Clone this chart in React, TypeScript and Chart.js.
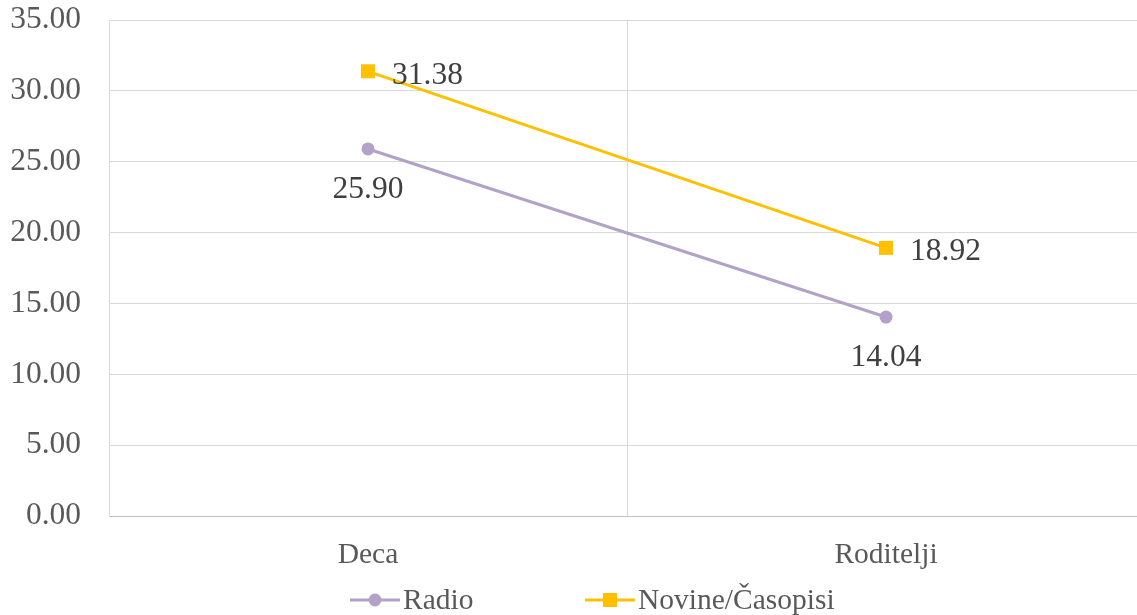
import React, { useEffect, useRef } from "react";
import { Chart, registerables } from "chart.js";

Chart.register(...registerables);

const categories = ["Deca", "Roditelji"];
const seriesNames = ["Radio", "Novine/Časopisi"];
const radioValues = [25.9, 14.04];
const novineValues = [31.38, 18.92];
const yMin = 0;
const yMax = 35;
const yStep = 5;

const FONT = "'Liberation Serif', 'Times New Roman', serif";
const NUM_SIZE = 31.5;
const TEXT_SIZE = 29.5;
const RADIO_COLOR = "#b3a2c7";
const NOVINE_COLOR = "#ffc000";

const dataLabelPlugin = {
  id: "dataLabels",
  afterDatasetsDraw(chart: any) {
    const ctx = chart.ctx;
    ctx.save();
    ctx.font = `${NUM_SIZE}px ${FONT}`;
    ctx.fillStyle = "#404040";
    chart.data.datasets.forEach((ds: any, i: number) => {
      const meta = chart.getDatasetMeta(i);
      meta.data.forEach((pt: any, j: number) => {
        const text = Number(ds.data[j]).toFixed(2);
        ctx.textBaseline = "middle";
        if (ds.labelPos === "right") {
          ctx.textAlign = "left";
          ctx.fillText(text, pt.x + 24, pt.y + 4);
        } else {
          ctx.textAlign = "center";
          ctx.fillText(text, pt.x, pt.y + 41);
        }
      });
    });
    ctx.restore();
  },
};

const legendPlugin = {
  id: "customLegend",
  afterDraw(chart: any) {
    const ctx = chart.ctx;
    const y = 600;
    const items = [
      { x: 350, ds: chart.data.datasets[0] },
      { x: 585, ds: chart.data.datasets[1] },
    ];
    ctx.save();
    items.forEach(({ x, ds }) => {
      ctx.strokeStyle = ds.borderColor;
      ctx.lineWidth = 3;
      ctx.beginPath();
      ctx.moveTo(x, y);
      ctx.lineTo(x + 50, y);
      ctx.stroke();
      ctx.fillStyle = ds.borderColor;
      if (ds.pointStyle === "rect") {
        ctx.fillRect(x + 25 - 7, y - 7, 14, 14);
      } else {
        ctx.beginPath();
        ctx.arc(x + 25, y, 6.5, 0, Math.PI * 2);
        ctx.fill();
      }
      ctx.font = `${TEXT_SIZE}px ${FONT}`;
      ctx.fillStyle = "#595959";
      ctx.textAlign = "left";
      ctx.textBaseline = "middle";
      ctx.fillText(ds.label, x + 53, y + 1);
    });
    ctx.restore();
  },
};

export default function App() {
  const canvasRef = useRef<HTMLCanvasElement | null>(null);

  useEffect(() => {
    document.body.style.overflow = "hidden";
    const canvas = canvasRef.current;
    if (!canvas) return;
    const chart = new Chart(canvas, {
      type: "line",
      data: {
        labels: categories,
        datasets: [
          {
            label: seriesNames[0],
            data: radioValues,
            borderColor: RADIO_COLOR,
            backgroundColor: RADIO_COLOR,
            borderWidth: 3,
            pointStyle: "circle",
            pointRadius: 6.5,
            pointBorderWidth: 0,
            labelPos: "below",
          } as any,
          {
            label: seriesNames[1],
            data: novineValues,
            borderColor: NOVINE_COLOR,
            backgroundColor: NOVINE_COLOR,
            borderWidth: 3,
            pointStyle: "rect",
            pointRadius: 7 * Math.SQRT2,
            pointBorderWidth: 0,
            labelPos: "right",
          } as any,
        ],
      },
      options: {
        responsive: false,
        animation: false,
        layout: { padding: { top: 20, right: 15, bottom: 0, left: 0 } },
        plugins: {
          legend: { display: false },
          tooltip: { enabled: false },
        },
        scales: {
          x: {
            offset: true,
            grid: { offset: true, color: "#d9d9d9", lineWidth: 1, drawTicks: false },
            border: { color: "#bfbfbf", width: 1 },
            ticks: {
              font: { family: FONT, size: TEXT_SIZE },
              color: "#595959",
              padding: 22,
              maxRotation: 0,
            },
            afterFit(scale: any) {
              scale.height = 99;
              scale.paddingLeft = 0;
              scale.paddingRight = 0;
            },
          },
          y: {
            min: yMin,
            max: yMax,
            grid: { color: "#d9d9d9", lineWidth: 1, drawTicks: false },
            border: { color: "#d9d9d9", width: 1 },
            ticks: {
              stepSize: yStep,
              font: { family: FONT, size: NUM_SIZE },
              color: "#595959",
              padding: 28,
              callback: (v: any) => Number(v).toFixed(2),
            },
            afterFit(scale: any) {
              scale.width = 109;
              scale.paddingTop = 0;
              scale.paddingBottom = 0;
            },
          },
        },
      },
      plugins: [dataLabelPlugin, legendPlugin],
    });
    return () => chart.destroy();
  }, []);

  return (
    <div style={{ position: "fixed", left: 0, top: 0, width: 1160, height: 615, overflow: "hidden", background: "#ffffff" }}>
      <canvas ref={canvasRef} width={1160} height={615} style={{ display: "block" }} />
    </div>
  );
}
